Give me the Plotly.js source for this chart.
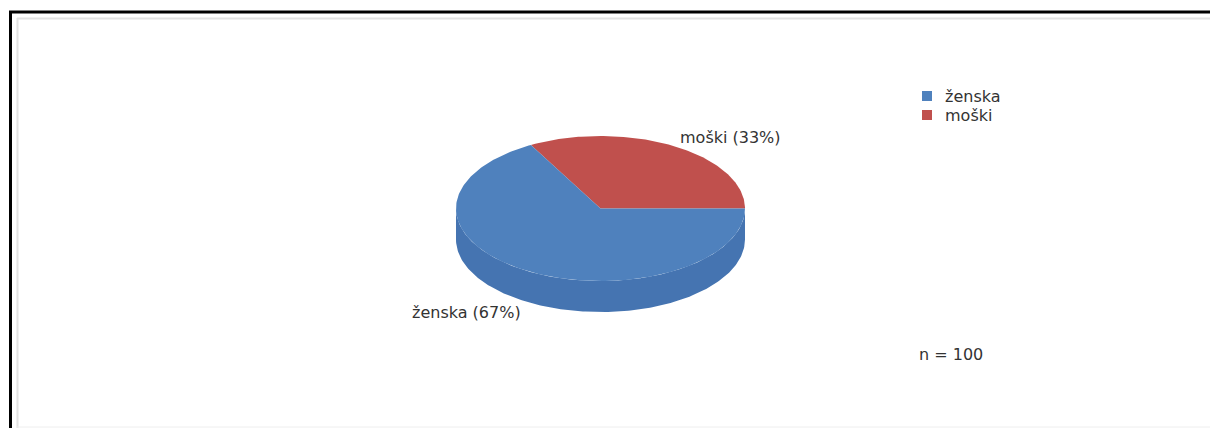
<!DOCTYPE html>
<html>
<head>
<meta charset="utf-8">
<script src="https://cdn.plot.ly/plotly-3.0.1.min.js"></script>
<style>html,body{margin:0;padding:0;background:#fff;overflow:hidden;}#chart{width:1210px;height:428px;}</style>
</head>
<body>
<div id="chart"></div>
<script>
// ---- data ----
const categories = ["ženska", "moški"];
const values = [67, 33];
const colors = ["#4F81BD", "#C0504D"];
const sideColor = "#4574B1";
const sampleLabel = "n = 100";

// ---- geometry (pixel-space axes) ----
const W = 1210, H = 428;
const cx = 600.5, cy = 208.5, rx = 144.5, ry = 72.5, depth = 31;
const total = values.reduce((a, b) => a + b, 0);
const N = 180;

function pt(tDeg, dy) {
  const t = tDeg * Math.PI / 180;
  return [cx + rx * Math.cos(t), cy - ry * Math.sin(t) + (dy || 0)];
}

const traces = [];
// side (front half: 180..360 deg)
{
  const xs = [], ys = [];
  for (let i = 0; i <= N; i++) { const p = pt(180 + 180 * i / N); xs.push(p[0]); ys.push(p[1]); }
  for (let i = N; i >= 0; i--) { const p = pt(180 + 180 * i / N, depth); xs.push(p[0]); ys.push(p[1]); }
  traces.push({x: xs, y: ys, type: "scatter", mode: "lines", fill: "toself", fillcolor: sideColor,
    line: {width: 0}, hoverinfo: "skip", showlegend: false});
}
// slices: moški first starting at 0 deg counterclockwise, then ženska
const order = [1, 0];
let start = 0;
order.forEach(idx => {
  const span = 360 * values[idx] / total;
  const xs = [cx], ys = [cy];
  const steps = Math.max(2, Math.round(N * span / 180));
  for (let i = 0; i <= steps; i++) { const p = pt(start + span * i / steps); xs.push(p[0]); ys.push(p[1]); }
  xs.push(cx); ys.push(cy);
  traces.push({x: xs, y: ys, type: "scatter", mode: "lines", fill: "toself", fillcolor: colors[idx],
    line: {width: 0}, hoverinfo: "skip", showlegend: false});
  start += span;
});

// legend markers
const legX = 927, legY0 = 96, legStep = 19;
traces.push({
  x: categories.map(() => legX),
  y: categories.map((c, i) => legY0 + i * legStep),
  type: "scatter", mode: "markers",
  marker: {symbol: "square", size: 10, color: colors, line: {width: 0}},
  hoverinfo: "skip", showlegend: false
});

const font = {family: "DejaVu Sans, Verdana, sans-serif", size: 16, color: "#333333"};
const annotations = [];
categories.forEach((c, i) => {
  annotations.push({x: legX + 16, y: legY0 + i * legStep, xref: "x", yref: "y", text: c,
    showarrow: false, xanchor: "left", yanchor: "middle", font: font});
});
// slice labels
const pct = values.map(v => Math.round(100 * v / total));
annotations.push({x: 730.5, y: 137, xref: "x", yref: "y", text: categories[1] + " (" + pct[1] + "%)",
  showarrow: false, xanchor: "center", yanchor: "middle", font: font});
annotations.push({x: 466, y: 312, xref: "x", yref: "y", text: categories[0] + " (" + pct[0] + "%)",
  showarrow: false, xanchor: "center", yanchor: "middle", font: font});
annotations.push({x: 917, y: 354, xref: "x", yref: "y", text: sampleLabel,
  showarrow: false, xanchor: "left", yanchor: "middle", font: font});

const shapes = [
  {type: "line", xref: "paper", yref: "paper", x0: 10.5 / W, x1: 10.5 / W, y0: 0, y1: 1 - 11 / H, line: {color: "#000", width: 3}, layer: "above"},
  {type: "line", xref: "paper", yref: "paper", x0: 9 / W, x1: 1, y0: 1 - 12 / H, y1: 1 - 12 / H, line: {color: "#000", width: 3}, layer: "above"},
  {type: "line", xref: "paper", yref: "paper", x0: 17.5 / W, x1: 17.5 / W, y0: 0, y1: 1 - 18 / H, line: {color: "#e2e2e2", width: 2}, layer: "above"},
  {type: "line", xref: "paper", yref: "paper", x0: 17 / W, x1: 1, y0: 1 - 18.5 / H, y1: 1 - 18.5 / H, line: {color: "#e2e2e2", width: 2}, layer: "above"},
  {type: "line", xref: "paper", yref: "paper", x0: 17 / W, x1: 1, y0: 1 / H, y1: 1 / H, line: {color: "#eeeeee", width: 1}, layer: "above"},
  {type: "rect", xref: "paper", yref: "paper", x0: 1185 / W, x1: 1, y0: 2 / H, y1: 1 - 20 / H, fillcolor: "#ffffff", line: {width: 0}, layer: "above"}
];

const layout = {
  width: W, height: H,
  margin: {l: 0, r: 0, t: 0, b: 0, pad: 0},
  paper_bgcolor: "#ffffff", plot_bgcolor: "#ffffff",
  xaxis: {range: [0, W], visible: false, fixedrange: true, showgrid: false, zeroline: false},
  yaxis: {range: [H, 0], visible: false, fixedrange: true, showgrid: false, zeroline: false},
  showlegend: false,
  annotations: annotations,
  shapes: shapes
};

Plotly.newPlot("chart", traces, layout, {staticPlot: true, displayModeBar: false});
</script>
</body>
</html>
